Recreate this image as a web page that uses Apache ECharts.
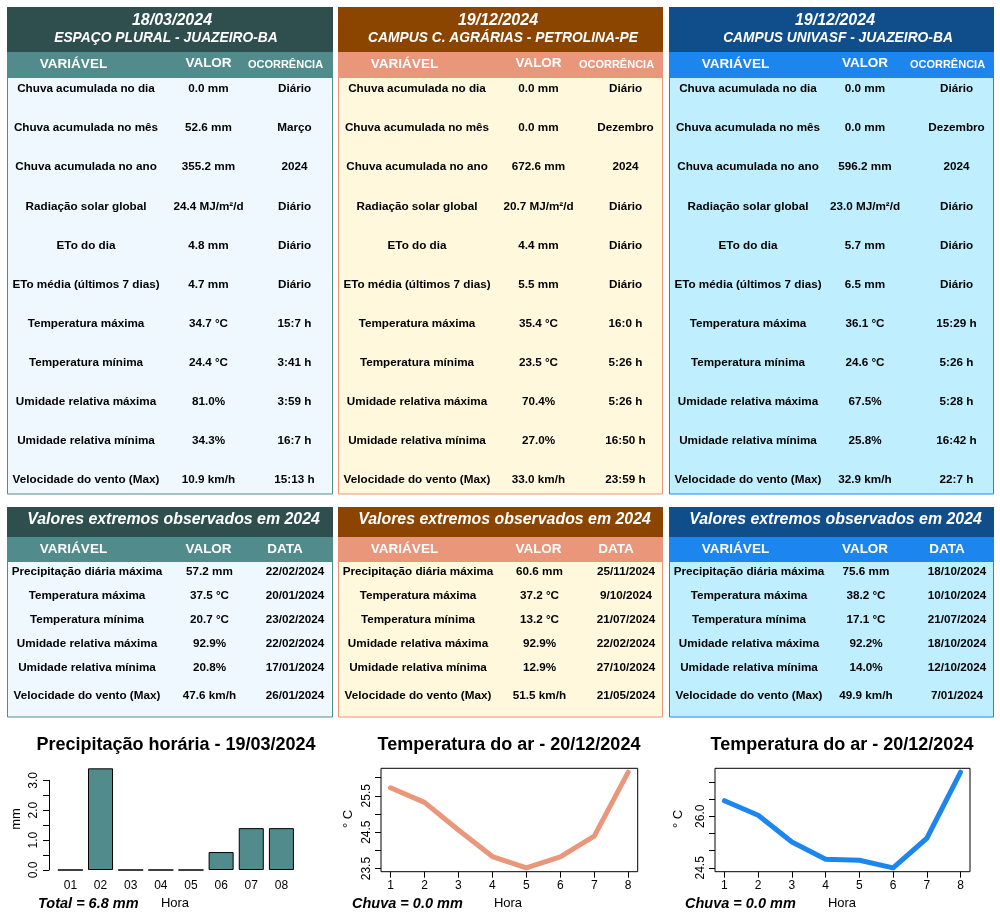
<!DOCTYPE html>
<html><head><meta charset="utf-8">
<script src="https://cdn.jsdelivr.net/npm/echarts@6/dist/echarts.min.js"></script>
<style>html,body{margin:0;padding:0;background:#fff}#c{width:1000px;height:920px}</style>
</head><body><div id="c"></div>
<script>
// ---------------- DATA ----------------
const stationDates = ["18/03/2024", "19/12/2024", "19/12/2024"];
const stationNames = ["ESPAÇO PLURAL - JUAZEIRO-BA", "CAMPUS C. AGRÁRIAS - PETROLINA-PE", "CAMPUS UNIVASF - JUAZEIRO-BA"];
const dailyHeaders = ["VARIÁVEL", "VALOR", "OCORRÊNCIA"];
const dailyVariables = ["Chuva acumulada no dia", "Chuva acumulada no mês", "Chuva acumulada no ano", "Radiação solar global", "ETo do dia", "ETo média (últimos 7 dias)", "Temperatura máxima", "Temperatura mínima", "Umidade relativa máxima", "Umidade relativa mínima", "Velocidade do vento (Max)"];
const dailyValues1 = ["0.0 mm", "52.6 mm", "355.2 mm", "24.4 MJ/m²/d", "4.8 mm", "4.7 mm", "34.7 °C", "24.4 °C", "81.0%", "34.3%", "10.9 km/h"];
const dailyOccurrence1 = ["Diário", "Março", "2024", "Diário", "Diário", "Diário", "15:7 h", "3:41 h", "3:59 h", "16:7 h", "15:13 h"];
const dailyValues2 = ["0.0 mm", "0.0 mm", "672.6 mm", "20.7 MJ/m²/d", "4.4 mm", "5.5 mm", "35.4 °C", "23.5 °C", "70.4%", "27.0%", "33.0 km/h"];
const dailyOccurrence2 = ["Diário", "Dezembro", "2024", "Diário", "Diário", "Diário", "16:0 h", "5:26 h", "5:26 h", "16:50 h", "23:59 h"];
const dailyValues3 = ["0.0 mm", "0.0 mm", "596.2 mm", "23.0 MJ/m²/d", "5.7 mm", "6.5 mm", "36.1 °C", "24.6 °C", "67.5%", "25.8%", "32.9 km/h"];
const dailyOccurrence3 = ["Diário", "Dezembro", "2024", "Diário", "Diário", "Diário", "15:29 h", "5:26 h", "5:28 h", "16:42 h", "22:7 h"];

const extremesTitle = "Valores extremos observados em 2024";
const extremeHeaders = ["VARIÁVEL", "VALOR", "DATA"];
const extremeVariables = ["Precipitação diária máxima", "Temperatura máxima", "Temperatura mínima", "Umidade relativa máxima", "Umidade relativa mínima", "Velocidade do vento (Max)"];
const extremeValues1 = ["57.2 mm", "37.5 °C", "20.7 °C", "92.9%", "20.8%", "47.6 km/h"];
const extremeDates1 = ["22/02/2024", "20/01/2024", "23/02/2024", "22/02/2024", "17/01/2024", "26/01/2024"];
const extremeValues2 = ["60.6 mm", "37.2 °C", "13.2 °C", "92.9%", "12.9%", "51.5 km/h"];
const extremeDates2 = ["25/11/2024", "9/10/2024", "21/07/2024", "22/02/2024", "27/10/2024", "21/05/2024"];
const extremeValues3 = ["75.6 mm", "38.2 °C", "17.1 °C", "92.2%", "14.0%", "49.9 km/h"];
const extremeDates3 = ["18/10/2024", "10/10/2024", "21/07/2024", "18/10/2024", "12/10/2024", "7/01/2024"];

const rainTitle = "Precipitação horária - 19/03/2024";
const rainHours = ["01", "02", "03", "04", "05", "06", "07", "08"];
const rainValues = [0.0, 3.4, 0.0, 0.0, 0.0, 0.6, 1.4, 1.4];
const rainTicks = [0, 0.5, 1, 1.5, 2, 2.5, 3];
const rainTickLabels = [0, 1, 2, 3];

const tempTitle2 = "Temperatura do ar - 20/12/2024";
const tempTitle3 = "Temperatura do ar - 20/12/2024";
const tempHours = [1, 2, 3, 4, 5, 6, 7, 8];
const tempValues2 = [25.72, 25.32, 24.56, 23.83, 23.52, 23.82, 24.39, 26.15];
const tempValues3 = [26.45, 26.03, 25.25, 24.75, 24.72, 24.5, 25.36, 27.28];
const temp2Ticks = [23.5, 24.0, 24.5, 25.0, 25.5, 26.0];
const temp2TickLabels = [23.5, 24.5, 25.5];
const temp3Ticks = [24.5, 25.0, 25.5, 26.0, 26.5, 27.0];
const temp3TickLabels = [24.5, 26.0];
const rainDay2 = "0.0";
const rainDay3 = "0.0";

// ---------------- LAYOUT / STYLE ----------------
const FF = '"Liberation Sans", Arial, sans-serif';
const panels = [
  { x: 7, w: 326, dark: '#2F4F4F', mid: '#528B8B', body: '#F0F8FF', valX: 201.5, dateX: 165, nameX: 159,
    vals: dailyValues1, occ: dailyOccurrence1, ev: extremeValues1, ed: extremeDates1 },
  { x: 338, w: 325, dark: '#8B4500', mid: '#E9967A', body: '#FFF8DC', valX: 200.5, dateX: 160, nameX: 165,
    vals: dailyValues2, occ: dailyOccurrence2, ev: extremeValues2, ed: extremeDates2 },
  { x: 669, w: 325, dark: '#104E8B', mid: '#1C86EE', body: '#BFEFFF', valX: 196, dateX: 166, nameX: 169,
    vals: dailyValues3, occ: dailyOccurrence3, ev: extremeValues3, ed: extremeDates3 }
];

const g = [];
function txt(x, y, text, font, fill, extra) {
  const o = { type: 'text', x: x, y: y, silent: true,
    style: { text: text, font: font, fill: fill || '#000', align: 'center', verticalAlign: 'middle' } };
  if (extra) Object.assign(o, extra);
  g.push(o);
  return o;
}
function rect(x, y, w, h, fill, stroke) {
  g.push({ type: 'rect', silent: true, shape: { x: x, y: y, width: w, height: h },
    style: { fill: fill, stroke: stroke || null, lineWidth: stroke ? 1 : 0 } });
}

panels.forEach(function (p, k) {
  // top table
  rect(p.x + 0.5, 52, p.w - 1, 442, p.body, p.mid);
  rect(p.x, 7, p.w, 45, p.dark);
  rect(p.x, 52, p.w, 26, p.mid);
  txt(p.x + p.dateX, 20.5, stationDates[k], 'italic bold 16px ' + FF, '#fff');
  txt(p.x + p.nameX, 38.5, stationNames[k], 'italic bold 13.8px ' + FF, '#fff');
  txt(p.x + 66.5, 64.5, dailyHeaders[0], 'bold 13.5px ' + FF, '#fff');
  txt(p.x + p.valX, 63, dailyHeaders[1], 'bold 13.5px ' + FF, '#fff');
  txt(p.x + 278.5, 65, dailyHeaders[2], 'bold 11px ' + FF, '#fff');
  dailyVariables.forEach(function (v, i) {
    const y = 89 + i * 39.1;
    txt(p.x + 79, y, v, 'bold 11.7px ' + FF);
    txt(p.x + p.valX, y, p.vals[i], 'bold 11.7px ' + FF);
    txt(p.x + 287.5, y, p.occ[i], 'bold 11.7px ' + FF);
  });
  // extremes table
  rect(p.x + 0.5, 537, p.w - 1, 180, p.body, p.mid);
  rect(p.x, 507, p.w, 30, p.dark);
  rect(p.x, 537, p.w, 25, p.mid);
  txt(p.x + 166.5, 519.5, extremesTitle, 'italic bold 15.9px ' + FF, '#fff');
  txt(p.x + 66.5, 549.5, extremeHeaders[0], 'bold 13.5px ' + FF, '#fff');
  txt(p.x + p.valX, 549, extremeHeaders[1], 'bold 13.5px ' + FF, '#fff');
  txt(p.x + 278, 549.5, extremeHeaders[2], 'bold 13.5px ' + FF, '#fff');
  const ey = [572, 596, 620, 644, 668, 696];
  extremeVariables.forEach(function (v, i) {
    txt(p.x + 80, ey[i], v, 'bold 11.7px ' + FF);
    txt(p.x + p.valX + 1, ey[i], p.ev[i], 'bold 11.7px ' + FF);
    txt(p.x + 288, ey[i], p.ed[i], 'bold 11.7px ' + FF);
  });
});

// bottom chart annotations
const rainTotal = rainValues.reduce(function (a, b) { return a + b; }, 0);
txt(176, 745.5, rainTitle, 'bold 18px ' + FF);
txt(175, 903, 'Hora', '13px ' + FF);
txt(38, 904, 'Total = ' + rainTotal.toFixed(1) + ' mm', 'italic bold 14.5px ' + FF).style.align = 'left';
txt(16, 819, 'mm', '13px ' + FF, '#000', { rotation: Math.PI / 2 });

txt(509, 745.5, tempTitle2, 'bold 18px ' + FF);
txt(508, 903, 'Hora', '13px ' + FF);
txt(352, 904, 'Chuva = ' + rainDay2 + ' mm', 'italic bold 14.5px ' + FF).style.align = 'left';
txt(348, 819, '° C', '13px ' + FF, '#000', { rotation: Math.PI / 2 });

txt(842, 745.5, tempTitle3, 'bold 18px ' + FF);
txt(842, 903, 'Hora', '13px ' + FF);
txt(685, 904, 'Chuva = ' + rainDay3 + ' mm', 'italic bold 14.5px ' + FF).style.align = 'left';
txt(678, 819, '° C', '13px ' + FF, '#000', { rotation: Math.PI / 2 });

function ext(arr) {
  const mn = Math.min.apply(null, arr), mx = Math.max.apply(null, arr);
  const d = (mx - mn) * 0.04;
  return [mn - d, mx + d];
}
const e2 = ext(tempValues2), e3 = ext(tempValues3), eh = ext(tempHours);

const labelStyle = { color: '#000', fontSize: 12, fontFamily: FF };

function tempAxes(gi, ticks, labels, e) {
  return {
    x: { type: 'value', gridIndex: gi, min: eh[0], max: eh[1],
      axisLine: { show: false }, splitLine: { show: false },
      axisTick: { show: true, length: 6, customValues: tempHours, lineStyle: { color: '#000' } },
      axisLabel: Object.assign({ customValues: tempHours, margin: 8 }, labelStyle) },
    y: { type: 'value', gridIndex: gi, min: e[0], max: e[1],
      axisLine: { show: false }, splitLine: { show: false },
      axisTick: { show: true, length: 6, customValues: ticks, lineStyle: { color: '#000' } },
      axisLabel: Object.assign({ customValues: labels, rotate: 90, margin: 8,
        formatter: function (v) { return v.toFixed(1); } }, labelStyle) }
  };
}
const a2 = tempAxes(1, temp2Ticks, temp2TickLabels, e2);
const a3 = tempAxes(2, temp3Ticks, temp3TickLabels, e3);

const chart = echarts.init(document.getElementById('c'), null, { renderer: 'canvas' });
chart.setOption({
  animation: false,
  backgroundColor: '#fff',
  grid: [
    { left: 55.3, top: 780.3, width: 241.2, height: 89.7 },
    { left: 381, top: 768.3, width: 256.7, height: 103.4, show: true, borderColor: '#000', borderWidth: 1 },
    { left: 715, top: 768.3, width: 255, height: 103.4, show: true, borderColor: '#000', borderWidth: 1 }
  ],
  xAxis: [
    { type: 'category', gridIndex: 0, data: rainHours,
      axisLine: { show: false }, axisTick: { show: false },
      axisLabel: Object.assign({ margin: 10 }, labelStyle) },
    a2.x, a3.x
  ],
  yAxis: [
    { type: 'value', gridIndex: 0, min: 0, max: 3, interval: 0.5, offset: 6.3,
      axisLine: { show: true, lineStyle: { color: '#000', width: 1 } },
      splitLine: { show: false },
      axisTick: { show: true, length: 6, customValues: rainTicks, lineStyle: { color: '#000' } },
      axisLabel: Object.assign({ customValues: rainTickLabels, rotate: 90, margin: 9,
        formatter: function (v) { return v.toFixed(1); } }, labelStyle) },
    a2.y, a3.y
  ],
  series: [
    { type: 'bar', xAxisIndex: 0, yAxisIndex: 0, data: rainValues, clip: false,
      barCategoryGap: '17%',
      itemStyle: { color: '#528B8B', borderColor: '#000', borderWidth: 1 } },
    { type: 'line', xAxisIndex: 1, yAxisIndex: 1, symbol: 'none',
      data: tempHours.map(function (h, i) { return [h, tempValues2[i]]; }),
      lineStyle: { color: '#E9967A', width: 5, cap: 'round', join: 'round' } },
    { type: 'line', xAxisIndex: 2, yAxisIndex: 2, symbol: 'none',
      data: tempHours.map(function (h, i) { return [h, tempValues3[i]]; }),
      lineStyle: { color: '#1C86EE', width: 5, cap: 'round', join: 'round' } }
  ],
  graphic: { elements: g }
});
</script>
</body></html>
